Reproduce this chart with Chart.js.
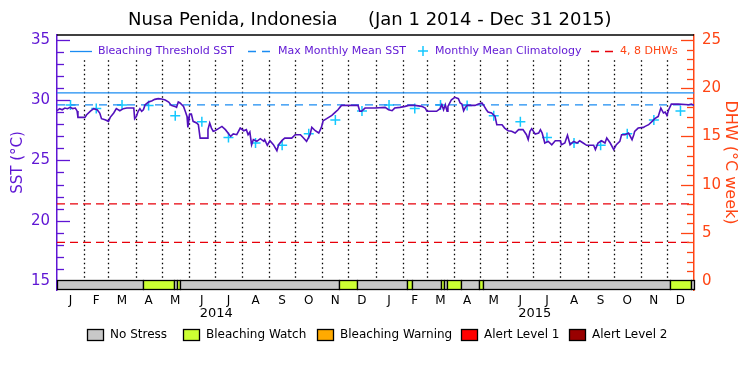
<!DOCTYPE html>
<html>
<head>
<meta charset="utf-8">
<script src="https://cdn.jsdelivr.net/npm/chart.js@4"></script>
<style>
  html, body { margin: 0; padding: 0; background: #fff; }
  canvas { display: block; }
</style>
</head>
<body>
<canvas id="chart" width="750" height="375"></canvas>
<script>
// Data, x = days since Jan 1 2014
const years = [2014, 2015];
const monthLetters = ["J", "F", "M", "A", "M", "J", "J", "A", "S", "O", "N", "D"];

const sstDay = [0, 3, 6, 9, 12, 15, 18, 21, 23, 24, 32, 34, 38, 42, 46, 49, 51, 55, 59, 61, 65, 68, 72, 76, 80, 88, 89, 91, 93, 95, 97, 99,
  101, 105, 109, 112, 116, 120, 124, 128, 131, 135, 137, 139, 141, 145, 147, 149, 150, 152, 154, 156, 160, 162, 164, 168, 172, 173, 175, 177, 179,
  181, 185, 189, 193, 196, 199, 202, 206, 210, 214, 217, 219, 221, 223, 225, 229, 233, 237, 238, 241, 244, 248, 252, 254, 258, 261, 269, 273,
  279, 282, 286, 290, 292, 296, 300, 303, 305, 309, 315, 319, 322, 326, 342, 345, 347, 349, 353, 364, 376, 380, 384, 387, 393, 399, 403, 410,
  418, 422, 424, 435, 439, 441, 443, 445, 447, 448, 452, 456, 460, 462, 464, 466, 468, 470, 479, 483, 487, 489, 492, 494, 498, 502, 504, 510,
  513, 517, 521, 525, 529, 534, 538, 540, 542, 544, 546, 548, 552, 554, 556, 559, 563, 567, 571, 577, 578, 582, 585, 588, 592, 596, 599, 603,
  607, 615, 617, 620, 624, 628, 630, 634, 638, 641, 645, 647, 651, 655, 659, 661, 662, 666, 672, 674, 678, 682, 685, 689, 692, 695, 697, 699,
  701, 704, 712, 724, 727, 730];
const sstVal = [29.12, 29.29, 29.2, 29.34, 29.29, 29.4, 29.3, 29.34, 29.1, 28.57, 28.57, 28.79, 29.07, 29.29, 29.2, 28.93, 28.46, 28.37, 28.24,
  28.57, 28.93, 29.29, 29.12, 29.29, 29.34, 29.34, 28.46, 28.65, 29.07, 29.29, 29.07, 29.2,
  29.62, 29.84, 29.95, 30.06, 30.12, 30.09, 30.0, 29.84, 29.56, 29.48, 29.4, 29.84, 29.76, 29.48, 29.07, 28.65, 27.74, 28.84, 28.84, 28.24, 28.1,
  27.96, 26.85, 26.85, 26.85, 27.55, 28.1, 27.68, 27.41,
  27.46, 27.63, 27.82, 27.55, 27.27, 26.99, 27.19, 27.13, 27.68, 27.46, 27.55, 27.13, 27.35, 26.3, 26.72, 26.58, 26.8, 26.58, 26.72, 26.25, 26.63,
  26.3, 25.8, 26.3, 26.66, 26.85, 26.85, 27.13,
  27.13, 26.9, 26.58, 27.13, 27.74, 27.46, 27.27, 27.74, 28.29, 28.46, 28.73, 29.0, 29.2, 29.56, 29.56, 29.56, 29.07, 29.07, 29.34, 29.34, 29.4,
  29.2, 29.12, 29.34, 29.4, 29.48, 29.56, 29.56,
  29.48, 29.34, 29.07, 29.07, 29.29, 29.62, 29.2, 29.62, 29.07, 29.48, 30.03, 30.23, 30.12, 29.76, 29.67, 29.12, 29.4, 29.56, 29.56, 29.67, 29.76,
  29.56, 29.2, 29.01, 28.93, 28.65, 27.96, 27.96,
  27.68, 27.46, 27.41, 27.27, 27.55, 27.55, 27.13, 26.72, 27.41, 27.63, 27.41, 27.19, 27.27, 27.55, 27.27, 26.44, 26.58, 26.3, 26.63, 26.63,
  26.3, 26.44, 27.08, 26.3, 26.58, 26.44, 26.63, 26.44,
  26.25, 26.25, 25.89, 26.44, 26.63, 26.44, 26.85, 26.44, 25.89, 26.3, 26.58, 27.13, 27.13, 27.27, 26.72, 27.13, 27.41, 27.68, 27.74, 27.82,
  27.96, 28.24, 28.46, 28.65, 29.34, 28.93, 29.01, 28.73,
  29.2, 29.67, 29.67, 29.62, 29.67, 29.56];

// monthly mean climatology, Jan..Dec
const climVal = [29.6, 29.3, 29.6, 29.55, 28.7, 28.2, 26.9, 26.45, 26.25, 27.2, 28.35, 29.1];
const maxMonthlyMean = 29.6;
const bleachThreshold = 30.6;
const dhwLevels = [4, 8];

const sstTicks = [15, 20, 25, 30, 35];
const dhwTicks = [0, 5, 10, 15, 20, 25];

// stress bar segments (level: index into stressNames)
const stressStart = [0, 99, 134, 138, 141, 323, 344, 401, 407, 440, 443, 447, 463, 484, 488, 702, 727];
const stressEnd = [99, 134, 138, 141, 323, 344, 401, 407, 440, 443, 447, 463, 484, 488, 702, 727, 730];
const stressLevel = [0, 1, 0, 1, 0, 1, 0, 1, 0, 1, 0, 1, 0, 1, 0, 1, 0];
const stressNames = ["No Stress", "Bleaching Watch", "Bleaching Warning", "Alert Level 1", "Alert Level 2"];
const stressColors = ["#c8c8c8", "#ccff33", "#ffaa00", "#ff0000", "#990000"];

const PURPLE = "#5f16d4";
const LINE = "#5210bc";
const ORANGE = "#ff4514";
const BLUE = "#1b8cf2";
const CYAN = "#14c8ff";
const RED = "#e8000a";
const FONT = "'DejaVu Sans', sans-serif";

// month boundaries / centres in days
const DAY = 86400000;
const t0 = Date.UTC(years[0], 0, 1);
const monthStart = [];
const monthMid = [];
years.forEach(yr => {
    for (let m = 0; m < 12; m++) {
        const s = (Date.UTC(yr, m, 1) - t0) / DAY;
        const e = (Date.UTC(yr, m + 1, 1) - t0) / DAY;
        monthStart.push(s);
        monthMid.push((s + e) / 2);
    }
});
const totalDays = (Date.UTC(years[years.length - 1] + 1, 0, 1) - t0) / DAY;

function flat(v) {
    return [{ x: 0, y: v }, { x: totalDays, y: v }];
}

const decor = {
    id: "decor",
    beforeDatasetsDraw(chart) {
        const { ctx, scales: { x, y } } = chart;
        ctx.save();
        ctx.strokeStyle = "#000";
        ctx.lineWidth = 1.3;
        ctx.setLineDash([1.5, 3]);
        const top = y.getPixelForValue(33.3);
        const bot = y.getPixelForValue(15.1);
        monthStart.slice(1).forEach(d => {
            const px = Math.round(x.getPixelForValue(d)) + 0.5;
            ctx.beginPath();
            ctx.moveTo(px, top);
            ctx.lineTo(px, bot);
            ctx.stroke();
        });
        ctx.restore();
    },
    afterDraw(chart) {
        const { ctx, chartArea: a, scales: { x, y, y2 } } = chart;
        ctx.save();

        // top frame
        ctx.strokeStyle = "#000";
        ctx.lineWidth = 1.5;
        ctx.beginPath();
        ctx.moveTo(a.left, a.top);
        ctx.lineTo(a.right, a.top);
        ctx.stroke();

        // inward ticks
        ctx.lineWidth = 1.3;
        ctx.strokeStyle = PURPLE;
        for (let v = sstTicks[0]; v <= sstTicks[sstTicks.length - 1]; v++) {
            const py = Math.round(y.getPixelForValue(v)) + 0.5;
            ctx.beginPath();
            ctx.moveTo(a.left, py);
            ctx.lineTo(a.left + (v % 5 === 0 ? 13 : 7), py);
            ctx.stroke();
        }
        ctx.strokeStyle = ORANGE;
        for (let v = dhwTicks[0]; v <= dhwTicks[dhwTicks.length - 1]; v++) {
            const py = Math.round(y2.getPixelForValue(v)) + 0.5;
            ctx.beginPath();
            ctx.moveTo(a.right, py);
            ctx.lineTo(a.right - (v % 5 === 0 ? 13 : 7), py);
            ctx.stroke();
        }

        // stress bar
        const barTop = Math.round(y.getPixelForValue(15.08)) + 0.5;
        const barBot = Math.round(a.bottom) - 0.5;
        ctx.strokeStyle = "#000";
        ctx.lineWidth = 1.3;
        stressStart.forEach((s, i) => {
            const x1 = Math.round(x.getPixelForValue(s)) + 0.5;
            const x2 = Math.round(x.getPixelForValue(stressEnd[i])) + 0.5;
            ctx.fillStyle = stressColors[stressLevel[i]];
            ctx.fillRect(x1, barTop, x2 - x1, barBot - barTop);
            ctx.strokeRect(x1, barTop, x2 - x1, barBot - barTop);
        });

        // title
        ctx.fillStyle = "#000";
        ctx.textBaseline = "middle";
        ctx.textAlign = "left";
        ctx.font = "18px " + FONT;
        ctx.fillText("Nusa Penida, Indonesia", 128, 20);
        ctx.fillText("(Jan 1 2014 - Dec 31 2015)", 368, 20);

        // year labels
        ctx.textAlign = "center";
        ctx.font = "13px " + FONT;
        years.forEach((yr, i) => {
            ctx.fillText(String(yr), x.getPixelForValue(i * 365 + 182.5), 314);
        });

        // legend inside the plot
        const ly = 51;
        ctx.font = "11px " + FONT;
        ctx.textAlign = "left";
        ctx.lineWidth = 1.3;
        ctx.strokeStyle = BLUE;
        ctx.beginPath();
        ctx.moveTo(70, ly + 0.5);
        ctx.lineTo(92, ly + 0.5);
        ctx.stroke();
        ctx.fillStyle = PURPLE;
        ctx.fillText("Bleaching Threshold SST", 98, ly);
        ctx.setLineDash([8, 6]);
        ctx.beginPath();
        ctx.moveTo(248, ly + 0.5);
        ctx.lineTo(272, ly + 0.5);
        ctx.stroke();
        ctx.fillText("Max Monthly Mean SST", 278, ly);
        ctx.setLineDash([]);
        ctx.strokeStyle = CYAN;
        ctx.lineWidth = 1.5;
        ctx.beginPath();
        ctx.moveTo(418, ly);
        ctx.lineTo(428, ly);
        ctx.moveTo(423, ly - 5);
        ctx.lineTo(423, ly + 5);
        ctx.stroke();
        ctx.fillText("Monthly Mean Climatology", 435, ly);
        ctx.strokeStyle = RED;
        ctx.lineWidth = 1.3;
        ctx.setLineDash([8, 6]);
        ctx.beginPath();
        ctx.moveTo(591, ly + 0.5);
        ctx.lineTo(615, ly + 0.5);
        ctx.stroke();
        ctx.setLineDash([]);
        ctx.fillStyle = ORANGE;
        ctx.fillText("4, 8 DHWs", 620, ly);

        // stress legend
        const boxX = [87, 183, 317, 461, 569];
        ctx.font = "12px " + FONT;
        ctx.fillStyle = "#000";
        ctx.strokeStyle = "#000";
        ctx.lineWidth = 1.3;
        stressNames.forEach((name, i) => {
            ctx.fillStyle = stressColors[i];
            ctx.fillRect(boxX[i] + 0.5, 329.5, 16, 11);
            ctx.strokeRect(boxX[i] + 0.5, 329.5, 16, 11);
            ctx.fillStyle = "#000";
            ctx.fillText(name, boxX[i] + 23, 335);
        });

        ctx.restore();
    }
};

const ctx = document.getElementById("chart").getContext("2d");

new Chart(ctx, {
    type: "line",
    data: {
        datasets: [
            {
                label: "SST",
                data: sstDay.map((d, i) => ({ x: d, y: sstVal[i] })),
                borderColor: LINE,
                borderWidth: 1.6,
                pointRadius: 0,
                yAxisID: "y"
            },
            {
                label: "Bleaching Threshold SST",
                data: flat(bleachThreshold),
                borderColor: BLUE,
                borderWidth: 1.3,
                pointRadius: 0,
                yAxisID: "y"
            },
            {
                label: "Max Monthly Mean SST",
                data: flat(maxMonthlyMean),
                borderColor: BLUE,
                borderWidth: 1.3,
                borderDash: [8, 6],
                pointRadius: 0,
                yAxisID: "y"
            },
            {
                label: "Monthly Mean Climatology",
                data: monthMid.map((d, i) => ({ x: d, y: climVal[i % 12] })),
                showLine: false,
                pointStyle: "cross",
                pointRadius: 5,
                pointBorderWidth: 1.5,
                borderColor: CYAN,
                backgroundColor: CYAN,
                yAxisID: "y"
            },
            ...dhwLevels.map(v => ({
                label: v + " DHW",
                data: flat(v),
                borderColor: RED,
                borderWidth: 1.3,
                borderDash: [8, 5],
                pointRadius: 0,
                yAxisID: "y2"
            }))
        ]
    },
    options: {
        responsive: false,
        animation: false,
        devicePixelRatio: 1,
        layout: { padding: { top: 35, left: 0, right: 0, bottom: 0 } },
        plugins: {
            legend: { display: false },
            tooltip: { enabled: false },
            title: { display: false }
        },
        scales: {
            x: {
                type: "linear",
                min: 0,
                max: totalDays,
                grid: { display: false, drawTicks: false },
                border: { display: false },
                afterBuildTicks: s => { s.ticks = monthMid.map(v => ({ value: v })); },
                ticks: {
                    autoSkip: false,
                    maxRotation: 0,
                    padding: 4,
                    color: "#000",
                    font: { family: FONT, size: 12 },
                    callback: (v, i) => monthLetters[i % 12]
                },
                afterFit: s => { s.height = 85; }
            },
            y: {
                position: "left",
                min: 14.25,
                max: 35.4,
                grid: { display: false, drawTicks: false },
                border: { color: PURPLE, width: 1.5 },
                afterBuildTicks: s => { s.ticks = sstTicks.map(v => ({ value: v })); },
                ticks: { color: PURPLE, padding: 7, font: { family: FONT, size: 15 } },
                title: {
                    display: true,
                    text: "SST (°C)",
                    color: PURPLE,
                    font: { family: FONT, size: 15 },
                    padding: { top: 9, bottom: 0 }
                },
                afterFit: s => { s.width = 57; }
            },
            y2: {
                position: "right",
                min: -0.93,
                max: 25.52,
                grid: { display: false, drawTicks: false },
                border: { color: ORANGE, width: 1.5 },
                afterBuildTicks: s => { s.ticks = dhwTicks.map(v => ({ value: v })); },
                ticks: { color: ORANGE, padding: 8, font: { family: FONT, size: 15 } },
                title: {
                    display: true,
                    text: "DHW (°C week)",
                    color: ORANGE,
                    font: { family: FONT, size: 16 },
                    padding: { top: 10, bottom: 0 }
                },
                afterFit: s => { s.width = 56; }
            }
        }
    },
    plugins: [decor]
});
</script>
</body>
</html>
